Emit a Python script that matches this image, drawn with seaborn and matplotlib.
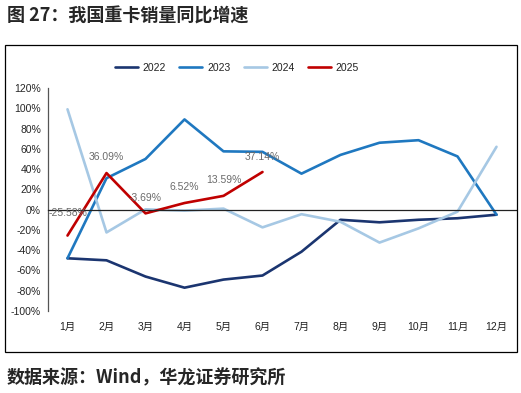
import matplotlib
matplotlib.use("Agg")
import matplotlib.pyplot as plt
import matplotlib.transforms as mtransforms
from matplotlib.patches import Rectangle
import pandas as pd
import seaborn as sns

months = ["1月", "2月", "3月", "4月", "5月", "6月",
          "7月", "8月", "9月", "10月", "11月", "12月"]
y2022 = [-48, -50, -66, -77, -69, -65, -41.5, -10, -12.5, -10, -8.5, -5]
y2023 = [-48, 31, 50, 89, 57.5, 57, 35.5, 54, 66, 68.5, 52.5, -5]
y2024 = [99, -22.5, 0.3, -1, 1, -17.5, -4.5, -12, -32.5, -18.5, -2, 62]
y2025 = [-25.58, 36.09, -3.69, 6.52, 13.59, 37.14]
years = ["2022", "2023", "2024", "2025"]
colors = ["#1B3570", "#1F78C0", "#A6C8E4", "#C00000"]

rows = []
for yr, vals in zip(years, [y2022, y2023, y2024, y2025]):
    for m, v in zip(months, vals):
        rows.append({"month": m, "year": yr, "value": v})
df = pd.DataFrame(rows)

sns.set_style("white")
plt.rcParams["font.family"] = ["Liberation Sans", "Noto Sans CJK SC", "DejaVu Sans"]

fig = plt.figure(figsize=(5.21, 3.93), dpi=100)
ax = fig.add_axes([48 / 521, 1 - 311 / 393, 468 / 521, 223 / 393])

sns.lineplot(data=df, x="month", y="value", hue="year", palette=colors,
             sort=False, linewidth=1.9, ax=ax, legend=True)

ax.set_xlim(-0.5, len(months) - 0.5)
ax.set_ylim(-100, 120)
ax.set_yticks(range(-100, 121, 20))
ax.set_yticklabels([f"{t}%" for t in range(-100, 121, 20)], fontsize=7.5)
ax.set_xlabel("")
ax.set_ylabel("")

# x axis on the zero line, ticks at category boundaries
for s in ["top", "right"]:
    ax.spines[s].set_visible(False)
ax.spines["bottom"].set_position(("data", 0))
ax.spines["bottom"].set_color("#222222")
ax.spines["bottom"].set_linewidth(0.9)
ax.spines["left"].set_color("#555555")
ax.spines["left"].set_linewidth(0.9)
ax.set_xticks([i + 0.5 for i in range(-1, len(months))])
ax.set_xticklabels([])
ax.tick_params(axis="x", direction="out", length=3, width=0.8, color="#222222")
ax.tick_params(axis="y", direction="out", length=3, width=0.8, color="#555555", pad=2)

trans = mtransforms.blended_transform_factory(ax.transData, ax.transAxes)
for i, m in enumerate(months):
    ax.text(i, -0.07, m, transform=trans, ha="center", va="center", fontsize=7.5,
            color="#222222")

# data labels for 2025
offsets = [23, 16, 15, 16, 16, 15]
for i, v in enumerate(y2025):
    ax.annotate(f"{v:.2f}%", (i, v), xytext=(0, offsets[i] / 1.39),
                textcoords="offset points", ha="center", va="center",
                fontsize=7.5, color="#6b6b6b")

leg = ax.legend(loc="center", bbox_to_anchor=((237 - 48) / 468, 1 + 20 / 223),
                ncol=4, frameon=False, fontsize=7.5, handlelength=2.2,
                columnspacing=1.3, handletextpad=0.45)
for t in leg.get_texts():
    t.set_color("#222222")

fig.patches.append(Rectangle((5 / 521, 1 - 352 / 393), 512 / 521, 307 / 393,
                             transform=fig.transFigure, fill=False,
                             edgecolor="black", linewidth=0.9))

fig.text(7 / 521, 1 - 16 / 393, "图 27：我国重卡销量同比增速", fontsize=13,
         fontweight="bold", family=["Noto Sans CJK SC"], va="center", ha="left")
fig.text(7 / 521, 1 - 378 / 393, "数据来源：Wind，华龙证券研究所", fontsize=13,
         fontweight="bold", family=["Noto Sans CJK SC"], va="center", ha="left")

fig.savefig("out.png", dpi=100)
